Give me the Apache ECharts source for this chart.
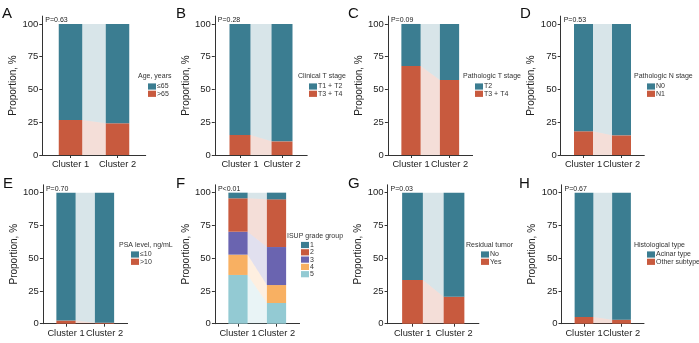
<!DOCTYPE html>
<html><head><meta charset="utf-8">
<script src="https://cdn.jsdelivr.net/npm/echarts@6/dist/echarts.min.js"></script>
<style>html,body{margin:0;padding:0;background:#fff}#c{width:699px;height:343px}</style>
</head><body><div id="c"></div>
<script>
// ---- data ----
const clusters = ['Cluster 1', 'Cluster 2'];
// levels listed top-of-legend first; values per cluster (percent)
const ageLevels = ['≤65', '>65'];
const ageC1 = [73.3, 26.7];
const ageC2 = [75.8, 24.2];
const ctLevels = ['T1 + T2', 'T3 + T4'];
const ctC1 = [84.7, 15.3];
const ctC2 = [89.6, 10.4];
const ptLevels = ['T2', 'T3 + T4 '];
const ptC1 = [32.1, 67.9];
const ptC2 = [42.7, 57.3];
const pnLevels = ['N0', 'N1'];
const pnC1 = [81.9, 18.1];
const pnC2 = [85.0, 15.0];
const psaLevels = ['≤10', '>10'];
const psaC1 = [97.6, 2.4];
const psaC2 = [99.2, 0.8];
const isupLevels = ['1', '2', '3', '4', '5'];
const isupC1 = [4.3, 25.5, 17.5, 15.5, 37.2];
const isupC2 = [5.1, 36.4, 29.0, 13.7, 15.8];
const resLevels = ['No', 'Yes'];
const resC1 = [66.7, 33.3];
const resC2 = [79.4, 20.6];
const histLevels = ['Acinar type', 'Other subtype'];
const histC1 = [94.9, 5.1];
const histC2 = [96.9, 3.1];
const panelLetters = ['A', 'B', 'C', 'D', 'E', 'F', 'G', 'H'];
const pValues = ['P=0.63', 'P=0.28', 'P=0.09', 'P=0.53', 'P=0.70', 'P<0.01', 'P=0.03', 'P=0.67'];
const legendTitles = ['Age, years', 'Clinical T stage', 'Pathologic T stage', 'Pathologic N stage',
  'PSA level, ng/mL', 'ISUP grade group', 'Residual tumor', 'Histological type'];
const yTicks = [0, 25, 50, 75, 100];

// ---- styling / layout ----
const TEAL = '#3b7d91', RED = '#c85a3e', PURPLE = '#6a64b0', ORANGE = '#f8b062', LBLUE = '#93cad3';
const twoColors = [TEAL, RED];
const isupColors = [TEAL, RED, PURPLE, ORANGE, LBLUE];

const panels = [
  {lv: ageLevels, c1: ageC1, c2: ageC2, col: twoColors, left: 42.3, w: 103.4, row: 0, lx: 138, sx: 148},
  {lv: ctLevels, c1: ctC1, c2: ctC2, col: twoColors, left: 214.8, w: 92.4, row: 0, lx: 298, sx: 309},
  {lv: ptLevels, c1: ptC1, c2: ptC2, col: twoColors, left: 387.9, w: 84.7, row: 0, lx: 463, sx: 475},
  {lv: pnLevels, c1: pnC1, c2: pnC2, col: twoColors, left: 560.7, w: 83.6, row: 0, lx: 634, sx: 647},
  {lv: psaLevels, c1: psaC1, c2: psaC2, col: twoColors, left: 42.9, w: 84.7, row: 1, lx: 119, sx: 131},
  {lv: isupLevels, c1: isupC1, c2: isupC2, col: isupColors, left: 214.9, w: 84.7, row: 1, lx: 287, sx: 301, ty: 237, sy: 241.5},
  {lv: resLevels, c1: resC1, c2: resC2, col: twoColors, left: 387.6, w: 91.3, row: 1, lx: 466, sx: 481},
  {lv: histLevels, c1: histC1, c2: histC2, col: twoColors, left: 561.5, w: 82.5, row: 1, lx: 634, sx: 647}
];
const rowTop = [16.1, 184.8];
const gridH = 138.9;
const letterX = [2, 176, 348, 520, 3, 176, 348, 519];

const FONT = '"Liberation Sans", Arial, Helvetica, sans-serif';
const grids = [], xAxes = [], yAxes = [], series = [], legends = [], graphics = [];

function barRender(params, api) {
  const x = api.value(0), lo = api.value(1), hi = api.value(2);
  const a = api.coord([x - 0.25, hi]);
  const b = api.coord([x + 0.25, lo]);
  return {type: 'rect', shape: {x: a[0], y: a[1], width: b[0] - a[0], height: b[1] - a[1]},
    style: {fill: api.visual('color')}};
}
function flowRender(params, api) {
  const p1 = api.coord([1.25, api.value(0)]);
  const p2 = api.coord([1.75, api.value(2)]);
  const p3 = api.coord([1.75, api.value(3)]);
  const p4 = api.coord([1.25, api.value(1)]);
  return {type: 'polygon', shape: {points: [p1, p2, p3, p4]},
    style: {fill: api.visual('color'), opacity: 0.2}};
}

panels.forEach((p, i) => {
  const top = rowTop[p.row];
  grids.push({left: p.left, top: top, width: p.w, height: gridH});
  xAxes.push({
    type: 'value', gridIndex: i, min: 0.4, max: 2.6,
    axisLine: {show: true, lineStyle: {color: '#333', width: 1}},
    axisTick: {show: true, customValues: [1, 2], length: 3, lineStyle: {color: '#333'}},
    axisLabel: {customValues: [1, 2], formatter: v => clusters[Math.round(v) - 1],
      fontSize: 9.3, color: '#222', fontFamily: FONT, margin: 5, hideOverlap: false},
    splitLine: {show: false}
  });
  yAxes.push({
    type: 'value', gridIndex: i, min: 0, max: 106,
    name: 'Proportion, %', nameLocation: 'middle', nameGap: 24,
    nameTextStyle: {fontSize: 10, color: '#222', fontFamily: FONT},
    axisLine: {show: true, lineStyle: {color: '#333', width: 1}},
    axisTick: {show: true, customValues: yTicks, length: 3, lineStyle: {color: '#333'}},
    axisLabel: {customValues: yTicks, fontSize: 9.5, color: '#222', fontFamily: FONT, margin: 4},
    splitLine: {show: false}
  });
  // stack from bottom (last level) to top (first level)
  const n = p.lv.length;
  let cum1 = 0, cum2 = 0;
  for (let k = n - 1; k >= 0; k--) {
    const lo1 = cum1, hi1 = cum1 + p.c1[k];
    const lo2 = cum2, hi2 = cum2 + p.c2[k];
    cum1 = hi1; cum2 = hi2;
    series.push({
      type: 'custom', name: p.lv[k], xAxisIndex: i, yAxisIndex: i,
      itemStyle: {color: p.col[k]}, renderItem: flowRender, silent: true,
      data: [[lo1, hi1, lo2, hi2]], encode: {x: -1, y: -1}, z: 1
    });
    series.push({
      type: 'custom', name: p.lv[k], xAxisIndex: i, yAxisIndex: i,
      itemStyle: {color: p.col[k]}, renderItem: barRender,
      data: [[1, lo1, hi1], [2, lo2, hi2]], encode: {x: 0, y: [1, 2]}, z: 2
    });
  }
  const ty = p.ty !== undefined ? p.ty : (p.row === 0 ? 77.5 : 246);
  const sy = p.sy !== undefined ? p.sy : (p.row === 0 ? 83 : 251);
  legends.push({
    orient: 'vertical', left: p.sx, top: sy, padding: 0, itemGap: 0.3,
    itemWidth: 8, itemHeight: 6.2, icon: 'rect', selectedMode: false,
    data: p.lv.map((name, k) => ({name: name, itemStyle: {color: p.col[k]}})),
    textStyle: {fontSize: 7, color: '#333', fontFamily: FONT, padding: [0, 0, 0, -4]}
  });
  graphics.push({type: 'text', left: p.lx, top: ty - 4.5,
    style: {text: legendTitles[i], fontSize: 7, fill: '#333', fontFamily: FONT}});
  graphics.push({type: 'text', left: p.left + 3, top: top + 0.5,
    style: {text: pValues[i], fontSize: 7, fill: '#222', fontFamily: FONT}});
  graphics.push({type: 'text', left: letterX[i], top: p.row === 0 ? 6.5 : 176,
    style: {text: panelLetters[i], fontSize: 15, fill: '#111', fontFamily: FONT}});
});

const chart = echarts.init(document.getElementById('c'), null, {renderer: 'canvas'});
chart.setOption({
  animation: false,
  backgroundColor: '#fff',
  textStyle: {fontFamily: FONT},
  grid: grids, xAxis: xAxes, yAxis: yAxes, series: series,
  legend: legends, graphic: graphics
});
</script></body></html>
